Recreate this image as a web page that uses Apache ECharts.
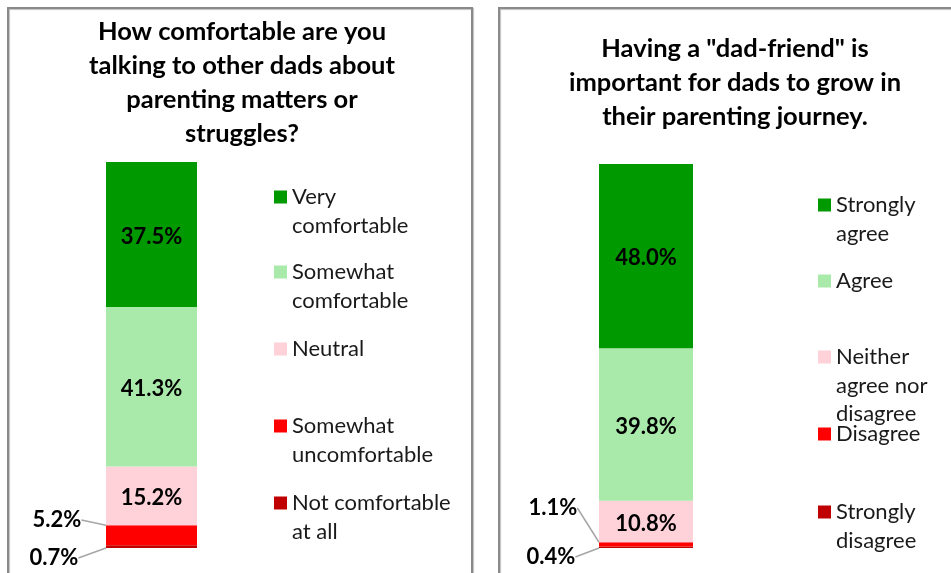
<!DOCTYPE html>
<html><head><meta charset="utf-8">
<script src="https://cdn.jsdelivr.net/npm/echarts@6/dist/echarts.min.js"></script>
<style>html,body{margin:0;padding:0;background:#fff}#c{width:951px;height:573px}</style>
</head><body><div id="c"></div>
<script>
// ---- data ----
const leftTitle = 'How comfortable are you\ntalking to other dads about\nparenting matters or\nstruggles?';
const leftCategories = ['Very comfortable', 'Somewhat comfortable', 'Neutral', 'Somewhat uncomfortable', 'Not comfortable at all'];
const leftLegendText = ['Very\ncomfortable', 'Somewhat\ncomfortable', 'Neutral', 'Somewhat\nuncomfortable', 'Not comfortable\nat all'];
const leftValues = [37.5, 41.3, 15.2, 5.2, 0.7];

const rightTitle = 'Having a "dad-friend" is\nimportant for dads to grow in\ntheir parenting journey.';
const rightCategories = ['Strongly agree', 'Agree', 'Neither agree nor disagree', 'Disagree', 'Strongly disagree'];
const rightLegendText = ['Strongly\nagree', 'Agree', 'Neither\nagree nor\ndisagree', 'Disagree', 'Strongly\ndisagree'];
const rightValues = [48.0, 39.8, 10.8, 1.1, 0.4];

// ---- styling ----
const colors = ['#009900', '#A9E9A9', '#FFD1D8', '#FF0000', '#C00000'];
const FONT = 'Lato';
const LH = 28.5;
// vertical centre of the first text line of each legend entry
const leftLegendY = [197, 272, 349, 426, 503];
const rightLegendY = [205, 281, 357, 434, 512];
const leftOutside = { 3: { x: 57, y: 520 }, 4: { x: 54, y: 558 } };
const rightOutside = { 3: { x: 553, y: 508 }, 4: { x: 551, y: 557 } };

const chart = echarts.init(document.getElementById('c'), null, { renderer: 'canvas' });

function buildSeries(cats, vals, gridIdx, outside) {
  const s = [];
  for (let i = cats.length - 1; i >= 0; i--) {
    const item = {
      name: cats[i], type: 'bar', stack: 'g' + gridIdx,
      xAxisIndex: gridIdx, yAxisIndex: gridIdx,
      barWidth: '100%',
      itemStyle: { color: colors[i] },
      data: [vals[i]],
      label: {
        show: true, position: 'inside', color: '#000', offset: [0, 2],
        fontFamily: FONT, fontWeight: 'bold', fontSize: 22,
        formatter: p => p.value.toFixed(1) + '%'
      },
      animation: false
    };
    if (outside[i]) {
      item.label.offset = [0, 0];
      item.labelLayout = { x: outside[i].x, y: outside[i].y, align: 'center', verticalAlign: 'middle' };
      item.labelLine = { show: true, lineStyle: { color: '#a6a6a6', width: 1.5 } };
    }
    s.push(item);
  }
  return s;
}

function buildLegends(cats, texts, ys, left) {
  return cats.map((c, i) => {
    const n = texts[i].split('\n').length;
    const H = n * LH;
    const t = LH / 2 - 6.5;
    // square aligned with the first text line; trailing moveTo keeps box height = H
    const icon = 'path://M0,' + t + 'L13,' + t + 'L13,' + (t + 13) + 'L0,' + (t + 13) + 'Z M0,0 M0,' + H;
    return {
      data: [{ name: c, icon: icon }], left: left, top: ys[i] - LH / 2, padding: 0,
      itemWidth: 13, itemHeight: H, itemGap: 0, selectedMode: false,
      formatter: () => texts[i],
      textStyle: { fontFamily: FONT, fontSize: 22, color: '#1a1a1a', lineHeight: LH }
    };
  });
}

const option = {
  backgroundColor: '#fff',
  animation: false,
  title: [
    { text: leftTitle, left: 237, top: 10, textAlign: 'center',
      textStyle: { fontFamily: FONT, fontWeight: 'bold', fontSize: 25.5, lineHeight: 34, color: '#000' } },
    { text: rightTitle, left: 730, top: 27, textAlign: 'center',
      textStyle: { fontFamily: FONT, fontWeight: 'bold', fontSize: 25.5, lineHeight: 34, color: '#000' } }
  ],
  legend: buildLegends(leftCategories, leftLegendText, leftLegendY, 274)
    .concat(buildLegends(rightCategories, rightLegendText, rightLegendY, 818)),
  grid: [
    { left: 106, width: 91, top: 162, bottom: 25 },
    { left: 599, width: 94, top: 164, bottom: 25 }
  ],
  xAxis: [
    { type: 'category', gridIndex: 0, data: [''], show: false },
    { type: 'category', gridIndex: 1, data: [''], show: false }
  ],
  yAxis: [
    { type: 'value', gridIndex: 0, min: 0, max: 'dataMax', show: false },
    { type: 'value', gridIndex: 1, min: 0, max: 'dataMax', show: false }
  ],
  graphic: [
    { type: 'rect', shape: { x: 8, y: 8, width: 464, height: 620 }, z: -1,
      style: { fill: 'none', stroke: '#8a8a8a', lineWidth: 2, shadowColor: 'rgba(0,0,0,0.25)', shadowOffsetX: 1, shadowOffsetY: 1, shadowBlur: 1 } },
    { type: 'rect', shape: { x: 499, y: 8, width: 520, height: 620 }, z: -1,
      style: { fill: 'none', stroke: '#8a8a8a', lineWidth: 2, shadowColor: 'rgba(0,0,0,0.25)', shadowOffsetX: 1, shadowOffsetY: 1, shadowBlur: 1 } }
  ],
  series: buildSeries(leftCategories, leftValues, 0, leftOutside)
    .concat(buildSeries(rightCategories, rightValues, 1, rightOutside))
};
chart.setOption(option);
</script></body></html>
